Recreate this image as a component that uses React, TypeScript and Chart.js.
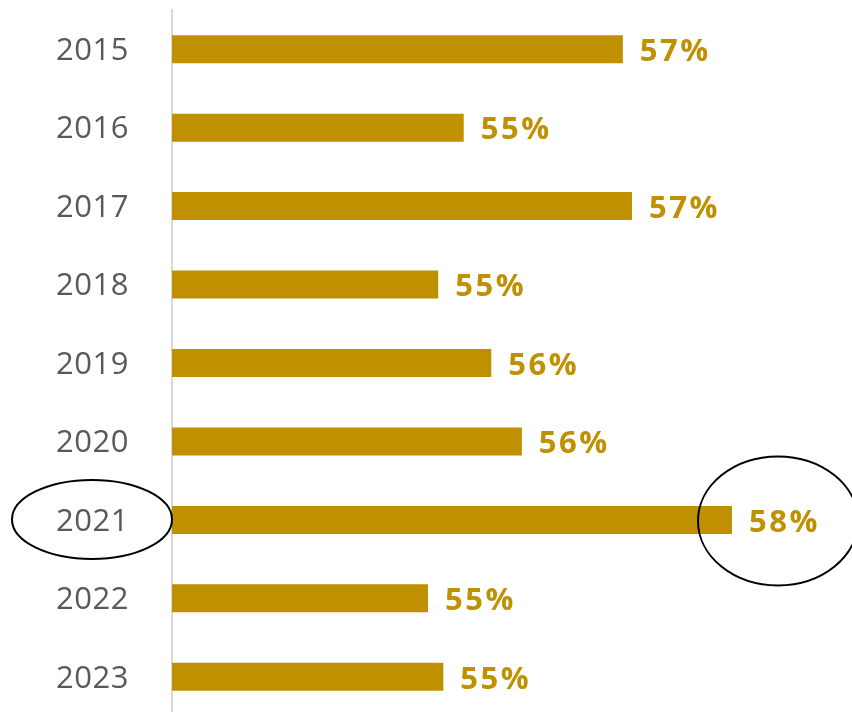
import React, { useEffect, useRef } from "react";
import { Chart, registerables } from "chart.js";

Chart.register(...registerables);

const years = ["2015", "2016", "2017", "2018", "2019", "2020", "2021", "2022", "2023"];
const shares = [56.92, 55.36, 57.01, 55.11, 55.63, 55.93, 57.99, 55.01, 55.16];
const axisMin = 52.5;
const axisMax = 59;
const highlightIndex = 6;

const GOLD = "#BF9000";

const labelPlugin = {
  id: "valueLabels",
  afterDatasetsDraw(chart: any) {
    const ctx = chart.ctx;
    const meta = chart.getDatasetMeta(0);
    ctx.save();
    // value labels
    ctx.fillStyle = GOLD;
    ctx.font = "bold 31px 'Open Sans'";
    (ctx as any).letterSpacing = "2.5px";
    ctx.textAlign = "left";
    ctx.textBaseline = "middle";
    meta.data.forEach((bar: any, i: number) => {
      const label = Math.round(shares[i]) + "%";
      ctx.fillText(label, bar.x + 17, bar.y + 3);
    });
    // category labels
    (ctx as any).letterSpacing = "0.5px";
    ctx.fillStyle = "#595959";
    ctx.font = "31px 'Open Sans'";
    ctx.textAlign = "right";
    const left = chart.chartArea.left;
    meta.data.forEach((bar: any, i: number) => {
      ctx.fillText(years[i], left - 43, bar.y + 2);
    });
    ctx.restore();
  },
};

const ellipsePlugin = {
  id: "ellipses",
  afterDraw(chart: any) {
    const ctx = chart.ctx;
    const meta = chart.getDatasetMeta(0);
    const bar = meta.data[highlightIndex];
    if (!bar) return;
    ctx.save();
    ctx.strokeStyle = "#000000";
    ctx.lineWidth = 2;
    ctx.beginPath();
    ctx.ellipse(92, bar.y - 0.5, 80, 39.5, 0, 0, Math.PI * 2);
    ctx.stroke();
    ctx.beginPath();
    ctx.ellipse(bar.x + 46, bar.y + 1, 80, 64.5, 0, 0, Math.PI * 2);
    ctx.stroke();
    ctx.restore();
  },
};

export default function App() {
  const canvasRef = useRef<HTMLCanvasElement | null>(null);

  useEffect(() => {
    document.body.style.margin = "0";
    const canvas = canvasRef.current;
    if (!canvas) return;
    const chart = new Chart(canvas, {
      type: "bar",
      data: {
        labels: years,
        datasets: [
          {
            data: shares,
            backgroundColor: GOLD,
            borderWidth: 0,
            barPercentage: 1,
            categoryPercentage: 0.357,
          },
        ],
      },
      options: {
        indexAxis: "y",
        responsive: false,
        animation: false,
        devicePixelRatio: 1,
        layout: { padding: { top: 10, right: 17, bottom: 0, left: 0 } },
        plugins: {
          legend: { display: false },
          tooltip: { enabled: false },
        },
        scales: {
          x: {
            display: false,
            min: axisMin,
            max: axisMax,
          },
          y: {
            afterFit(scale: any) {
              scale.width = 172;
            },
            grid: { display: false, drawTicks: false },
            border: { display: true, color: "#D9D9D9", width: 2 },
            ticks: { display: false },
          },
        },
      },
      plugins: [labelPlugin, ellipsePlugin],
    });
    return () => chart.destroy();
  }, []);

  return (
    <div style={{ position: "relative", width: 852, height: 712, overflow: "hidden" }}>
      <canvas
        ref={canvasRef}
        width={852}
        height={716}
        style={{ position: "absolute", left: 0, top: 0, width: 852, height: 716 }}
      />
    </div>
  );
}
